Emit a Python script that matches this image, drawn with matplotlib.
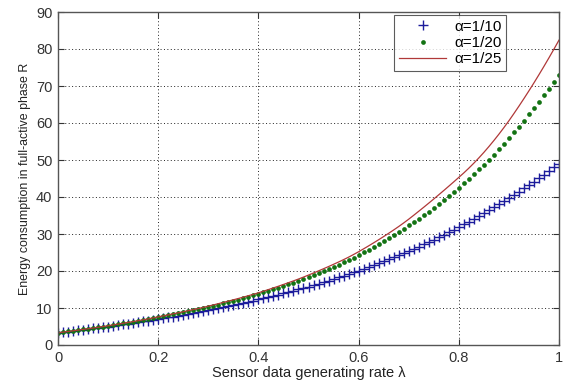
import matplotlib
matplotlib.use("Agg")
import matplotlib.pyplot as plt
import numpy as np

plt.rcParams['font.family'] = ['Liberation Sans', 'DejaVu Sans']

lam = [i / 100 for i in range(101)]

r_a10 = [
    3.30, 3.46, 3.62, 3.78, 3.95, 4.12, 4.29, 4.46, 4.64, 4.82,
    5.00, 5.19, 5.38, 5.58, 5.78, 5.98, 6.18, 6.38, 6.58, 6.79,
    7.00, 7.23, 7.46, 7.69, 7.92, 8.16, 8.40, 8.64, 8.88, 9.14,
    9.40, 9.67, 9.94, 10.22, 10.50, 10.78, 11.07, 11.36, 11.66, 11.98,
    12.30, 12.62, 12.95, 13.28, 13.62, 13.96, 14.31, 14.67, 15.04, 15.42,
    15.80, 16.19, 16.59, 17.00, 17.41, 17.83, 18.25, 18.69, 19.14, 19.61,
    20.10, 20.58, 21.07, 21.57, 22.08, 22.60, 23.13, 23.67, 24.23, 24.81,
    25.40, 25.99, 26.59, 27.20, 27.82, 28.46, 29.11, 29.77, 30.45, 31.16,
    31.90, 32.62, 33.35, 34.09, 34.84, 35.61, 36.39, 37.19, 38.01, 38.85,
    39.70, 40.56, 41.43, 42.32, 43.23, 44.16, 45.10, 46.06, 47.03, 48.01,
    49.00,
]

r_a20 = [
    3.30, 3.48, 3.66, 3.84, 4.02, 4.21, 4.40, 4.59, 4.79, 4.99,
    5.20, 5.41, 5.62, 5.84, 6.06, 6.28, 6.51, 6.74, 6.98, 7.24,
    7.50, 7.76, 8.02, 8.29, 8.56, 8.83, 9.11, 9.39, 9.68, 9.99,
    10.30, 10.62, 10.94, 11.27, 11.60, 11.94, 12.29, 12.65, 13.02, 13.40,
    13.80, 14.21, 14.63, 15.06, 15.49, 15.93, 16.38, 16.84, 17.31, 17.80,
    18.30, 18.84, 19.39, 19.95, 20.52, 21.10, 21.69, 22.30, 22.93, 23.60,
    24.30, 25.03, 25.77, 26.52, 27.29, 28.08, 28.89, 29.72, 30.57, 31.43,
    32.30, 33.22, 34.15, 35.10, 36.07, 37.06, 38.07, 39.11, 40.19, 41.32,
    42.50, 43.70, 44.92, 46.17, 47.45, 48.76, 50.10, 51.47, 52.88, 54.36,
    55.90, 57.46, 59.05, 60.67, 62.32, 64.00, 65.72, 67.48, 69.28, 71.12,
    73.00,
]

r_a25 = [
    3.30, 3.48, 3.66, 3.84, 4.02, 4.21, 4.40, 4.59, 4.79, 4.99,
    5.20, 5.42, 5.64, 5.87, 6.10, 6.33, 6.57, 6.81, 7.06, 7.33,
    7.60, 7.87, 8.14, 8.42, 8.70, 8.98, 9.27, 9.56, 9.86, 10.18,
    10.50, 10.83, 11.17, 11.51, 11.86, 12.21, 12.57, 12.94, 13.32, 13.70,
    14.10, 14.54, 14.98, 15.43, 15.89, 16.36, 16.84, 17.33, 17.83, 18.36,
    18.90, 19.46, 20.03, 20.61, 21.20, 21.81, 22.43, 23.07, 23.74, 24.46,
    25.20, 25.99, 26.79, 27.61, 28.45, 29.31, 30.19, 31.09, 32.02, 32.99,
    34.00, 35.06, 36.14, 37.23, 38.34, 39.46, 40.60, 41.75, 42.92, 44.10,
    45.30, 46.51, 47.79, 49.14, 50.56, 52.05, 53.62, 55.26, 56.97, 58.75,
    60.60, 62.55, 64.55, 66.60, 68.70, 70.85, 73.06, 75.32, 77.63, 79.99,
    82.40,
]

labels = ['\u03b1=1/10', '\u03b1=1/20', '\u03b1=1/25']
xticks = [0, 0.2, 0.4, 0.6, 0.8, 1]
xticklabels = ['0', '0.2', '0.4', '0.6', '0.8', '1']
yticks = [0, 10, 20, 30, 40, 50, 60, 70, 80, 90]

fig = plt.figure(figsize=(5.66, 3.84), dpi=100)
ax = fig.add_axes([58/566, 1-345/384, (559-58)/566, (345-12)/384])

ax.plot(lam, r_a10, linestyle='none', marker='+', markersize=7,
        markeredgewidth=1.0, color='#1c1c9c', label=labels[0])
ax.plot(lam, r_a20, linestyle='none', marker='o', markersize=3.4,
        markeredgewidth=0, color='#137313', label=labels[1])
ax.plot(lam, r_a25, linestyle='-', linewidth=0.9, color='#b03838',
        label=labels[2])

ax.set_xlim(0, 1)
ax.set_ylim(0, 90)
ax.set_xticks(xticks)
ax.set_xticklabels(xticklabels)
ax.set_yticks(yticks)
ax.tick_params(direction='in', length=4, width=0.8, top=True, right=True,
               labelsize=10.5, colors='#333333', pad=4)
ax.grid(True, linestyle=(0, (1, 2.5)), color='#222222', linewidth=0.7)
for s in ax.spines.values():
    s.set_color('#555555')
    s.set_linewidth(1.0)

ax.set_xlabel('Sensor data generating rate \u03bb', fontsize=10.5, color='#222222', labelpad=1)
ax.set_ylabel('Energy consumption in full-active phase R', fontsize=8.9, color='#222222', labelpad=4)

leg = ax.legend(loc='upper right', bbox_to_anchor=(0.894, 0.991), borderaxespad=0,
                fontsize=11, frameon=True, fancybox=False, handlelength=3.1,
                handletextpad=0.5, labelspacing=0.15, borderpad=0.3)
leg.get_frame().set_edgecolor('#333333')
leg.get_frame().set_linewidth(0.8)

fig.savefig('out.png', dpi=100)
